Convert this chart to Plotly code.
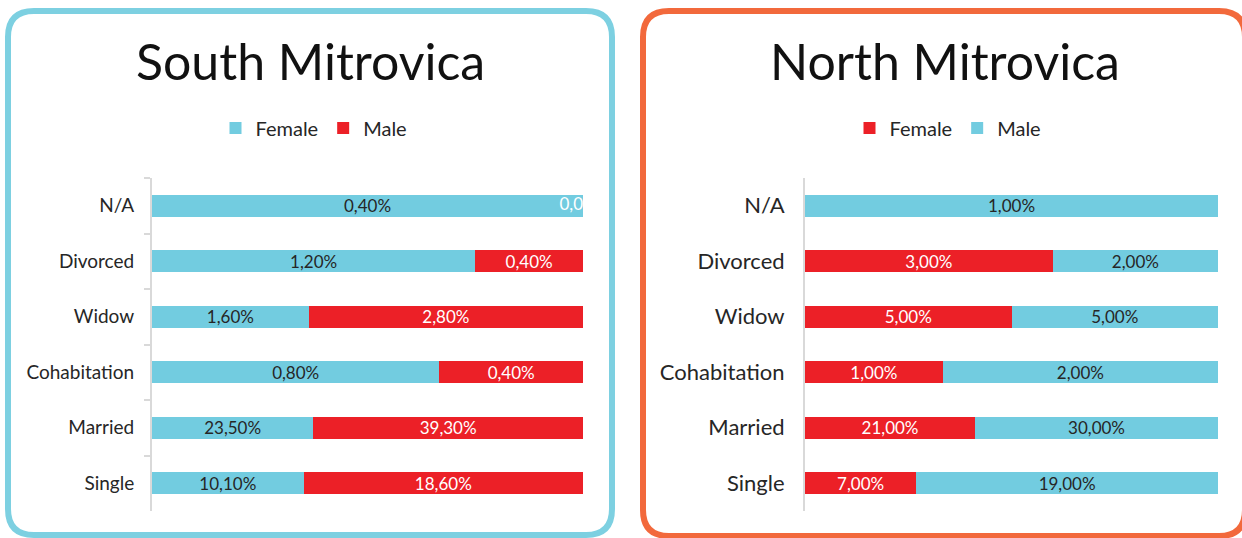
import plotly.graph_objects as go

categories = ["N/A", "Divorced", "Widow", "Cohabitation", "Married", "Single"]

south_female = [0.40, 1.20, 1.60, 0.80, 23.50, 10.10]
south_male = [0.00, 0.40, 2.80, 0.40, 39.30, 18.60]

north_female = [0.00, 3.00, 5.00, 1.00, 21.00, 7.00]
north_male = [1.00, 2.00, 5.00, 2.00, 30.00, 19.00]

BLUE = "#72CCE0"
RED = "#EC2027"
DARK = "#262626"
FONT = "Lato, 'Open Sans', sans-serif"
W, H = 1242, 538
LBL = 17


def lab(v, hide_zero=True):
    if hide_zero and v == 0:
        return ""
    return f"{v:.2f}".replace(".", ",") + "%"


fig = go.Figure()

# South Mitrovica
fig.add_trace(go.Bar(y=categories, x=south_female, orientation="h", name="Female",
                     marker=dict(color=BLUE, line=dict(width=0)),
                     text=[lab(v) for v in south_female], textposition="inside",
                     insidetextanchor="middle", constraintext="none",
                     textfont=dict(color=DARK, size=LBL, family=FONT),
                     xaxis="x", yaxis="y", legend="legend", hoverinfo="skip"))
fig.add_trace(go.Bar(y=categories, x=south_male, orientation="h", name="Male",
                     marker=dict(color=RED, line=dict(width=0)),
                     text=[lab(v) for v in south_male], textposition="inside",
                     insidetextanchor="middle", constraintext="none",
                     textfont=dict(color="white", size=LBL, family=FONT),
                     xaxis="x", yaxis="y", legend="legend", hoverinfo="skip"))
# zero-width male label on N/A (clipped at the plot edge)
zero_idx = [i for i, v in enumerate(south_male) if v == 0]
fig.add_trace(go.Scatter(y=[categories[i] for i in zero_idx],
                         x=[1.0 for i in zero_idx],
                         mode="text", text=[lab(south_male[i], False) for i in zero_idx],
                         textposition="middle center", cliponaxis=True,
                         textfont=dict(color="white", size=LBL, family=FONT),
                         showlegend=False, xaxis="x", yaxis="y", hoverinfo="skip"))

# North Mitrovica
fig.add_trace(go.Bar(y=categories, x=north_female, orientation="h", name="Female",
                     marker=dict(color=RED, line=dict(width=0)),
                     text=[lab(v) for v in north_female], textposition="inside",
                     insidetextanchor="middle", constraintext="none",
                     textfont=dict(color="white", size=LBL, family=FONT),
                     xaxis="x2", yaxis="y2", legend="legend2", hoverinfo="skip"))
fig.add_trace(go.Bar(y=categories, x=north_male, orientation="h", name="Male",
                     marker=dict(color=BLUE, line=dict(width=0)),
                     text=[lab(v) for v in north_male], textposition="inside",
                     insidetextanchor="middle", constraintext="none",
                     textfont=dict(color=DARK, size=LBL, family=FONT),
                     xaxis="x2", yaxis="y2", legend="legend2", hoverinfo="skip"))


def px_x(p):
    return p / W


def px_y(p):
    return 1 - p / H


def rounded_rect(x0, y0, x1, y1, r):
    rx, ry = r / W, r / H
    X0, X1 = px_x(x0), px_x(x1)
    Y0, Y1 = px_y(y0), px_y(y1)  # Y0 top, Y1 bottom
    return (f"M {X0+rx},{Y0} L {X1-rx},{Y0} Q {X1},{Y0} {X1},{Y0-ry} "
            f"L {X1},{Y1+ry} Q {X1},{Y1} {X1-rx},{Y1} "
            f"L {X0+rx},{Y1} Q {X0},{Y1} {X0},{Y1+ry} "
            f"L {X0},{Y0-ry} Q {X0},{Y0} {X0+rx},{Y0} Z")


shapes = [
    dict(type="path", xref="paper", yref="paper", path=rounded_rect(8, 11, 612, 535, 26),
         line=dict(color="#7DD0E1", width=6), fillcolor="rgba(0,0,0,0)", layer="below"),
    dict(type="path", xref="paper", yref="paper", path=rounded_rect(643, 11, 1245, 536, 26),
         line=dict(color="#F2693C", width=6), fillcolor="rgba(0,0,0,0)", layer="below"),
]

ydom = [px_y(511), px_y(178)]

fig.update_layout(
    width=W, height=H,
    margin=dict(l=0, r=0, t=0, b=0),
    paper_bgcolor="white", plot_bgcolor="white",
    barmode="stack", barnorm="fraction", bargap=0.6,
    font=dict(family=FONT, color=DARK),
    shapes=shapes,
    xaxis=dict(domain=[px_x(152), px_x(583)], range=[0, 1], visible=False, fixedrange=True),
    yaxis=dict(domain=ydom, autorange="reversed", anchor="x",
               showline=True, linecolor="#D9D9D9", linewidth=2,
               ticks="outside", tickson="boundaries", ticklen=6, tickcolor="#D9D9D9", tickwidth=2,
               ticklabelstandoff=12,
               tickfont=dict(size=19, family=FONT, color=DARK), showgrid=False),
    xaxis2=dict(domain=[px_x(805), px_x(1218)], range=[0, 1], visible=False, anchor="y2",
                fixedrange=True),
    yaxis2=dict(domain=ydom, autorange="reversed", anchor="x2",
                showline=True, linecolor="#D9D9D9", linewidth=2, ticks="",
                ticklabelstandoff=14,
                tickfont=dict(size=22, family=FONT, color=DARK), showgrid=False),
    legend=dict(orientation="h", x=px_x(314), y=px_y(128), xanchor="center", yanchor="middle",
                font=dict(size=20, family=FONT, color=DARK), itemwidth=30, traceorder="normal",
                bgcolor="rgba(0,0,0,0)"),
    legend2=dict(orientation="h", x=px_x(948), y=px_y(128), xanchor="center", yanchor="middle",
                 font=dict(size=20, family=FONT, color=DARK), itemwidth=30, traceorder="normal",
                 bgcolor="rgba(0,0,0,0)"),
    annotations=[
        dict(text="South Mitrovica", x=px_x(310), y=px_y(61), xref="paper", yref="paper",
             xanchor="center", yanchor="middle", showarrow=False,
             font=dict(size=50, family=FONT, color="#111111")),
        dict(text="North Mitrovica", x=px_x(945), y=px_y(61), xref="paper", yref="paper",
             xanchor="center", yanchor="middle", showarrow=False,
             font=dict(size=50, family=FONT, color="#111111")),
    ],
    showlegend=True,
)

fig.write_html("out.html", config={"displayModeBar": False},
               post_script="document.body.style.margin='0';document.body.style.overflow='hidden';")
